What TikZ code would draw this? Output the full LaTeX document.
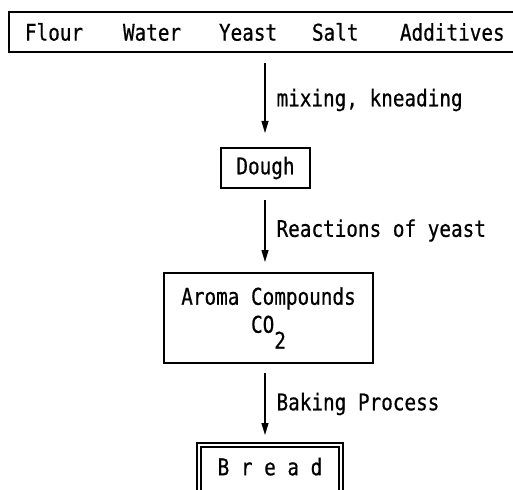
\documentclass[tikz,border=0pt]{standalone}
\usepackage{fontspec}
\setmonofont[FakeStretch=0.84,FakeBold=0.6]{DejaVu Sans Mono}
\usetikzlibrary{arrows.meta}
\begin{document}
\begin{tikzpicture}[x=1pt,y=-1pt,
  every node/.style={font=\ttfamily\fontsize{23}{26}\selectfont},
  box/.style={draw, line width=1.3pt, inner sep=0pt, outer sep=0pt},
  flow/.style={line width=1.1pt, -{Triangle[length=12pt,width=7pt]}},
  lbl/.style={anchor=west, inner sep=0pt, xshift=11pt}]
\useasboundingbox (0,0) rectangle (513,489);
\clip (0,0) rectangle (513,489);
\fill[white] (0,0) rectangle (513,489);

% vertical line along which the process runs
\coordinate (axis) at (265,0);

% ingredients
\node[box, anchor=north west, minimum height=40pt] (top) at (9,12)
  {\makebox[530pt][l]{\hspace*{16pt}\makebox[98pt][l]{Flour}\makebox[96pt][l]{Water}\makebox[93pt][l]{Yeast}\makebox[88pt][l]{Salt}Additives}};

% intermediate stages
\node[box, minimum width=89pt, minimum height=40pt] (dough) at (265.5,168) {Dough};
\node[box, minimum width=209pt, minimum height=90pt, align=center] (aroma) at (268.5,318)
  {Aroma Compounds\\[2pt]CO\raisebox{-16pt}{2}};

% final product, double frame
\node[draw, double, line width=1.1pt, double distance=2.9pt, inner sep=0pt, outer sep=0pt,
      anchor=north, minimum width=142pt, minimum height=60pt, text depth=17pt] (bread) at (270,445)
  {B r e a d};

% process steps
\draw[flow, shorten <=11pt, shorten >=15pt] (top.south -| axis) -- (dough.north -| axis)
  node[lbl, midway] {mixing, kneading};
\draw[flow, shorten <=12pt, shorten >=11pt] (dough.south -| axis) -- (aroma.north -| axis)
  node[lbl, midway] {Reactions of yeast};
\draw[flow, shorten <=10pt, shorten >=10pt] (aroma.south -| axis) -- (bread.north -| axis)
  node[lbl, midway] {Baking Process};
\end{tikzpicture}
\end{document}
